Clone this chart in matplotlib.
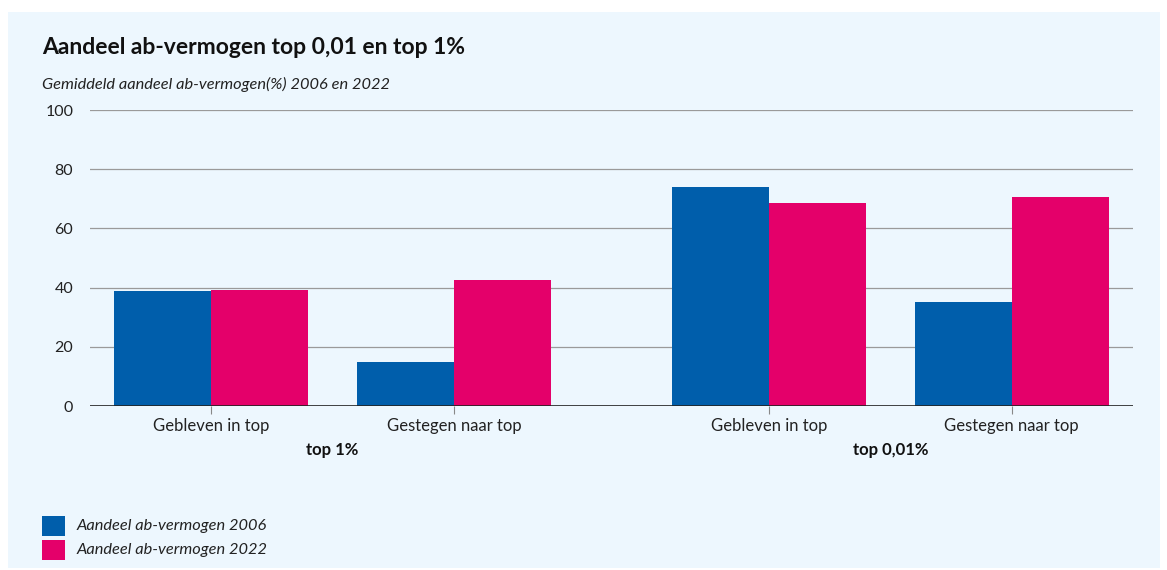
import matplotlib.pyplot as plt
from matplotlib.patches import Rectangle

# data
categories = ['Gebleven in top', 'Gestegen naar top', 'Gebleven in top', 'Gestegen naar top']
groups = ['top 1%', 'top 0,01%']
share_2006 = [38.9, 15.0, 74.0, 35.0]
share_2022 = [39.3, 42.6, 68.6, 70.5]
series_labels = ['Aandeel ab-vermogen 2006', 'Aandeel ab-vermogen 2022']
yticks = [0, 20, 40, 60, 80, 100]

blue = '#005EAB'
pink = '#E4006A'
bg = '#EDF7FE'

plt.rcParams['font.family'] = ['Lato', 'DejaVu Sans']

fig = plt.figure(figsize=(11.67, 5.70), dpi=100)
W, H = 1167, 570

# light blue panel behind everything
fig.patches.append(Rectangle((8 / W, 2 / H), 1152 / W, 556 / H, transform=fig.transFigure,
                             facecolor=bg, edgecolor='none', zorder=-10))

ax = fig.add_axes([90 / W, 1 - 406 / H, (1133 - 90) / W, (406 - 110) / H])
ax.set_zorder(5)
ax.set_facecolor('none')

# category positions with a wider gap between the two groups
x = [0, 1, 2.3, 3.3]
w = 0.4
ax.bar([p - w / 2 for p in x], share_2006, width=w, color=blue, zorder=3, label=series_labels[0])
ax.bar([p + w / 2 for p in x], share_2022, width=w, color=pink, zorder=3, label=series_labels[1])

ax.set_xlim(-0.5, 3.8)
ax.set_ylim(0, 100)
ax.set_yticks(yticks)
ax.set_yticklabels([str(v) for v in yticks], fontsize=11.5, color='#222222')
ax.tick_params(axis='y', length=0, pad=12)
for v in yticks[1:]:
    ax.axhline(v, color='#9a9a9a', linewidth=0.9, zorder=1)
ax.axhline(0, color='#222222', linewidth=1.2, zorder=4)

ax.set_xticks(x)
ax.set_xticklabels(categories, fontsize=12, color='#222222')
ax.tick_params(axis='x', length=6, width=0.8, color='#888888', pad=3)

for s in ax.spines.values():
    s.set_visible(False)

# group labels
for gx, g in zip([0.5, 2.8], groups):
    ax.text(gx, -14.9, g, ha='center', va='center', fontsize=12, fontweight='bold',
            color='#111111', clip_on=False)

# title and subtitle
fig.text(42 / W, 1 - 47 / H, 'Aandeel ab-vermogen top 0,01 en top 1%', fontsize=16.5,
         fontweight='bold', color='#111111', va='center')
fig.text(42 / W, 1 - 84 / H, 'Gemiddeld aandeel ab-vermogen(%) 2006 en 2022', fontsize=11.8,
         style='italic', color='#222222', va='center')

# legend
for yy, c, lab in zip([526, 550], [blue, pink], series_labels):
    fig.patches.append(Rectangle((42 / W, 1 - (yy + 10) / H), 23 / W, 20 / H,
                                 transform=fig.transFigure, facecolor=c, edgecolor='none'))
    fig.text(77 / W, 1 - yy / H, lab, fontsize=11.8, style='italic', color='#222222', va='center')

fig.savefig('out.png', dpi=100, facecolor='white')
